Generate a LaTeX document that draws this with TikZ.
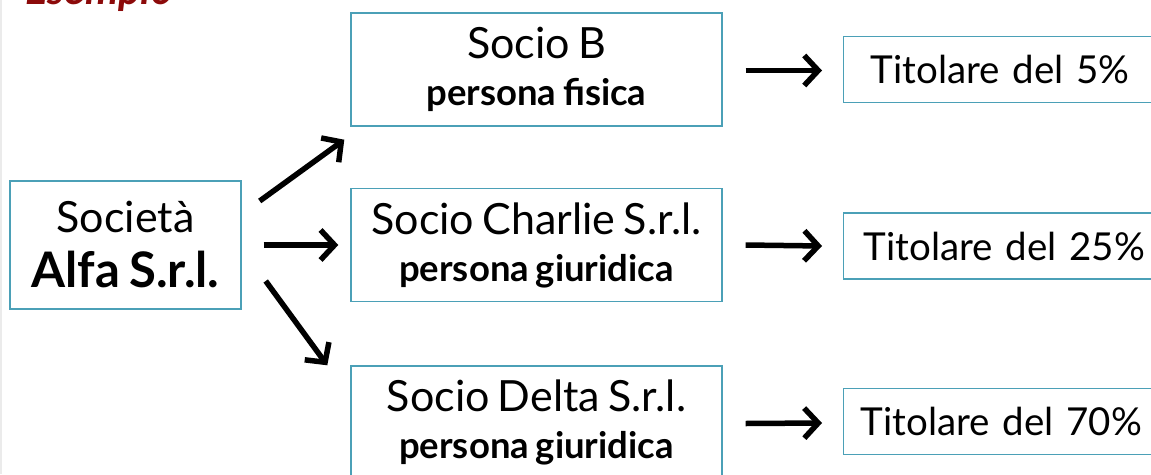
\documentclass[tikz,border=0pt]{standalone}
\usepackage{fontspec}
\setmainfont[WordSpace=0.75]{Lato}
\usetikzlibrary{arrows.meta,calc}
\definecolor{boxline}{RGB}{75,160,183}
\definecolor{esred}{RGB}{140,10,10}
\newcommand{\subtxt}{\fontsize{36.5}{36.5}\selectfont\bfseries}
\tikzset{
  box/.style={draw=boxline, line width=1.4pt, inner sep=0pt, align=center,
    font=\fontsize{43}{47}\selectfont},
  tbox/.style={box, anchor=west, minimum height=66pt, text width=330pt, align=left,
    font=\fontsize{38.5}{47}\selectfont},
  arr/.style={line width=5.5pt, -{Straight Barb[length=14pt,width=30pt]}},
}
\begin{document}
\begin{tikzpicture}[x=1pt,y=-1pt]
\useasboundingbox (0,0) rectangle (1151,474);
\fill[white] (0,0) rectangle (1151,474);
\draw[black!8, line width=1.5pt] (1,0) -- (1,474);
\node[anchor=base west, text=esred, font=\fontsize{42}{42}\selectfont\bfseries\itshape, inner sep=0pt] (es) at (25,4) {Esempio};

\node[box, minimum width=231pt, minimum height=128pt, font=\fontsize{43}{55}\selectfont] (alfa) at (125.5,245)
  {Società\\ {\fontsize{49}{55}\selectfont\bfseries Alfa S.r.l.}};
\node[box, minimum width=371pt, minimum height=113pt] (b) at (536.5,69.5)
  {Socio B\\ {\subtxt persona fisica}};
\node[box, minimum width=371pt, minimum height=113pt] (c) at (536.5,245)
  {Socio Charlie S.r.l.\\ {\subtxt persona giuridica}};
\node[box, minimum width=371pt, minimum height=113pt] (d) at (536.5,422.5)
  {Socio Delta S.r.l.\\ {\subtxt persona giuridica}};

\node[tbox, inner xsep=27pt] (t5) at (843,69.5) {Titolare del 5\%};
\node[tbox, inner xsep=20pt] (t25) at (843,246) {Titolare del 25\%};
\node[tbox, inner xsep=17pt] (t70) at (843,421.5) {Titolare del 70\%};

\draw[arr] ($(alfa.east)+(18,-44)$) -- ($(b.south west)+(-6,13)$);
\draw[arr] ($(alfa.east)+(22,0)$) -- ($(c.west)+(-12,0)$);
\draw[arr] ($(alfa.east)+(24,36)$) -- ($(d.north west)+(-23,0)$);
\draw[arr] ($(b.east)+(23,1)$) -- ($(t5.west)+(-21,1)$);
\draw[arr] ($(c.east)+(23,0)$) -- ($(t25.west)+(-21,0)$);
\draw[arr] ($(d.east)+(23,1)$) -- ($(t70.west)+(-21,1.5)$);
\end{tikzpicture}
\end{document}
